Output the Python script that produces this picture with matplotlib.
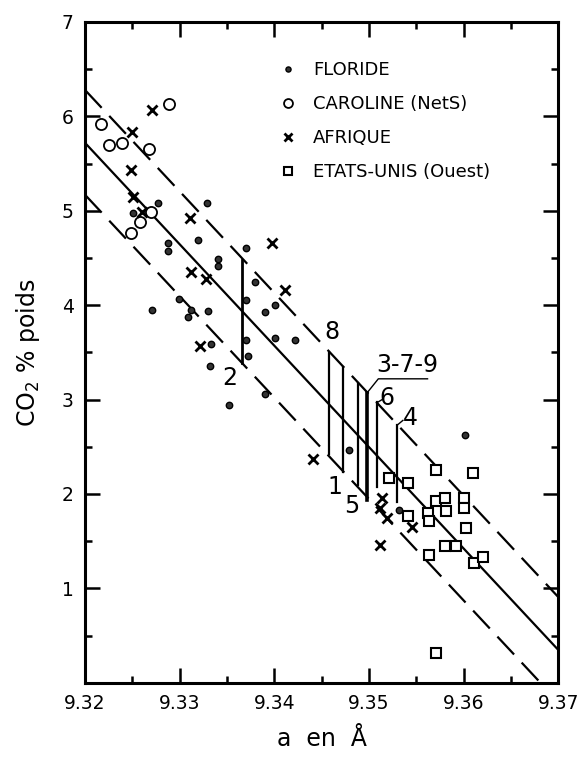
import numpy as np
import matplotlib as mpl
import matplotlib.pyplot as plt
from matplotlib.ticker import MultipleLocator, FormatStrFormatter

mpl.rcParams["font.family"] = "DejaVu Sans"
mpl.rcParams["font.size"] = 13

# data
floride_x = [9.3277, 9.3329, 9.3288, 9.3288, 9.3319, 9.3341, 9.3341, 9.3370,
             9.3251, 9.3380, 9.3299, 9.3271, 9.3312, 9.3309, 9.3330, 9.3370,
             9.3390, 9.3401, 9.3370, 9.3401, 9.3422, 9.3333, 9.3372, 9.3332,
             9.3390, 9.3352, 9.3479, 9.3602, 9.3532]
floride_y = [5.08, 5.08, 4.66, 4.57, 4.69, 4.49, 4.42, 4.61,
             4.98, 4.25, 4.07, 3.95, 3.95, 3.87, 3.94, 4.05,
             3.93, 4.00, 3.63, 3.65, 3.63, 3.59, 3.46, 3.36,
             3.06, 2.94, 2.47, 2.63, 1.83]

caroline_x = [9.3217, 9.3225, 9.3239, 9.3289, 9.3268, 9.3270, 9.3258, 9.3249]
caroline_y = [5.92, 5.70, 5.72, 6.13, 5.65, 4.99, 4.88, 4.76]

afrique_x = [9.3271, 9.3250, 9.3249, 9.3251, 9.3260, 9.3311, 9.3398, 9.3312,
             9.3328, 9.3411, 9.3322, 9.3441, 9.3514, 9.3512, 9.3519, 9.3546,
             9.3512]
afrique_y = [6.07, 5.83, 5.43, 5.15, 4.99, 4.92, 4.66, 4.35,
             4.28, 4.16, 3.57, 2.37, 1.96, 1.85, 1.75, 1.65,
             1.46]

usa_x = [9.3521, 9.3541, 9.3571, 9.3610, 9.3571, 9.3580, 9.3581, 9.3601,
         9.3601, 9.3541, 9.3562, 9.3564, 9.3603, 9.3580, 9.3592, 9.3564,
         9.3611, 9.3621, 9.3571]
usa_y = [2.17, 2.12, 2.25, 2.22, 1.93, 1.96, 1.82, 1.96,
         1.85, 1.77, 1.80, 1.71, 1.64, 1.45, 1.45, 1.35,
         1.27, 1.33, 0.32]

# regression line and limits (values at a = 9.32 and a = 9.37)
line_x = [9.32, 9.37]
line_mid = [5.72, 0.35]
line_up = [6.28, 0.91]
line_low = [5.17, -0.20]

# numbered vertical segments
seg_names = ["2", "8", "1", "5", "3-7-9", "6", "4"]
seg_x = [9.3366, 9.3458, 9.3473, 9.3488, 9.3498, 9.3509, 9.3530]
seg_low = [3.39, 2.42, 2.23, 2.09, 1.94, 2.07, 1.92]
seg_high = [4.48, 3.50, 3.34, 3.18, 3.07, 2.97, 2.73]
seg_lw = [2.0, 1.6, 1.6, 1.6, 2.6, 1.6, 1.6]
lab_x = [9.3353, 9.3461, 9.3464, 9.3482, 9.3541, 9.3519, 9.3544]
lab_y = [3.23, 3.72, 2.07, 1.87, 3.37, 3.02, 2.81]

fig = plt.figure(figsize=(5.82, 7.57), dpi=100)
ax = fig.add_axes([0.146, 0.098, 0.813, 0.873])

ax.plot(line_x, line_mid, color="black", lw=1.6)
for yy in [line_up, line_low]:
    ax.plot(line_x, yy, color="black", lw=1.6, dashes=(11, 5))

for i in range(len(seg_x)):
    ax.plot([seg_x[i], seg_x[i]], [seg_low[i], seg_high[i]], color="black", lw=seg_lw[i])
    ax.text(lab_x[i], lab_y[i], seg_names[i], fontsize=17, ha="center", va="center")

# leader for 3-7-9
ax.plot([9.3498, 9.3510, 9.3562], [3.07, 3.22, 3.22], color="black", lw=1.0)
ax.plot([9.3509, 9.3514], [2.97, 3.00], color="black", lw=1.0)
ax.plot([9.3530, 9.3536], [2.73, 2.78], color="black", lw=1.0)

ax.plot(floride_x, floride_y, "o", color="black", ms=4.6, mec="black", mfc="#333333",
        ls="none", label="FLORIDE")
ax.plot(caroline_x, caroline_y, "o", ms=8, mfc="white", mec="black", mew=1.3,
        ls="none", label="CAROLINE (NetS)")
ax.plot(afrique_x, afrique_y, "x", ms=7.5, color="black", mew=2,
        ls="none", label="AFRIQUE")
ax.plot(usa_x, usa_y, "s", ms=7, mfc="white", mec="black", mew=1.5,
        ls="none", label="ETATS-UNIS (Ouest)")

ax.legend(loc="upper left", bbox_to_anchor=(0.375, 0.965), frameon=False,
          handlelength=1.0, handletextpad=0.9, labelspacing=0.88,
          fontsize=13, markerscale=0.8)

ax.set_xlim(9.32, 9.37)
ax.set_ylim(0, 7)
ax.xaxis.set_major_locator(MultipleLocator(0.01))
ax.xaxis.set_minor_locator(MultipleLocator(0.005))
ax.yaxis.set_major_locator(MultipleLocator(1))
ax.yaxis.set_minor_locator(MultipleLocator(0.5))
ax.xaxis.set_major_formatter(FormatStrFormatter("%.2f"))
ax.set_yticks([1, 2, 3, 4, 5, 6, 7])
ax.tick_params(which="both", direction="in", top=True, right=True, width=1.8, labelsize=13.5)
ax.tick_params(which="major", length=11, pad=8)
ax.tick_params(which="minor", length=5)
for s in ax.spines.values():
    s.set_linewidth(2.2)

ax.set_xlabel("a  en  Å", fontsize=17, labelpad=10)
ax.set_ylabel("CO$_2$ % poids", fontsize=17, labelpad=14)

plt.savefig("out.png", dpi=100)
